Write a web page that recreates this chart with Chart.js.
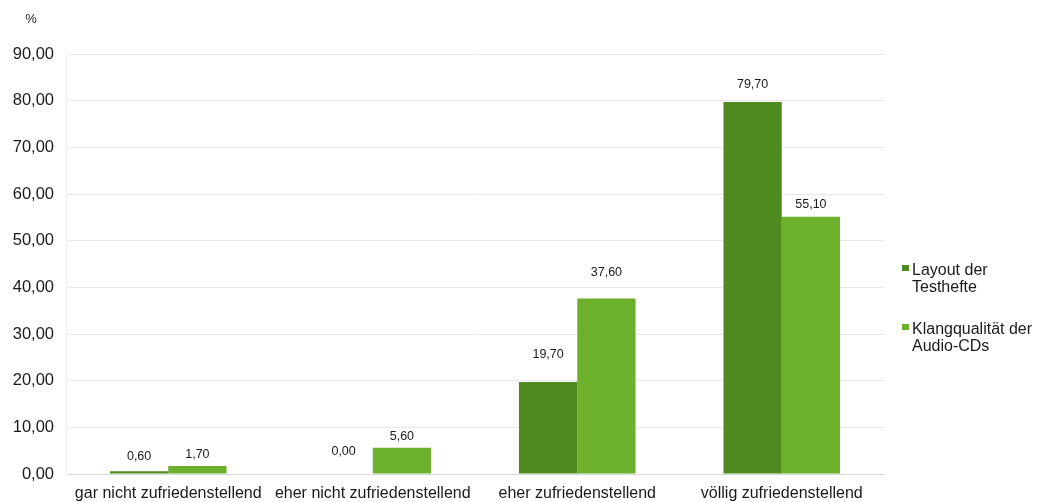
<!DOCTYPE html>
<html>
<head>
<meta charset="utf-8">
<script src="https://cdn.jsdelivr.net/npm/chart.js@4"></script>
<style>
  html, body { margin: 0; padding: 0; background: #fff; }
  #wrap { width: 1040px; height: 502px; position: relative; }
</style>
</head>
<body>
<div id="wrap"><canvas id="myChartBar"></canvas></div>
<script>
// Kategorien und Werte (%)
const kategorien = ['gar nicht zufriedenstellend', 'eher nicht zufriedenstellend', 'eher zufriedenstellend', 'völlig zufriedenstellend'];
const layoutWerte = [0.60, 0.00, 19.70, 79.70];
const klangWerte = [1.70, 5.60, 37.60, 55.10];
const serienNamen = [['Layout der', 'Testhefte'], ['Klangqualität der', 'Audio-CDs']];

const fmt = v => v.toFixed(2).replace('.', ',');
const FONT = '"Liberation Sans", Arial, sans-serif';

// Abstand Wertbeschriftung -> Balkenende, je Reihe/Kategorie
const labelAbstand = [[15, 22, 28, 18], [12, 11, 26, 12]];

// Werte über den Balken
const wertLabels = {
  id: 'wertLabels',
  afterDatasetsDraw(chart) {
    const { ctx } = chart;
    ctx.save();
    ctx.font = '12.5px ' + FONT;
    ctx.fillStyle = '#1a1a1a';
    ctx.textAlign = 'center';
    ctx.textBaseline = 'middle';
    chart.data.datasets.forEach((ds, i) => {
      chart.getDatasetMeta(i).data.forEach((bar, j) => {
        ctx.fillText(fmt(ds.data[j]), bar.x, bar.y - labelAbstand[i][j]);
      });
    });
    ctx.restore();
  }
};

// "%" oben links und Legende rechts
const extras = {
  id: 'extras',
  afterDraw(chart) {
    const { ctx } = chart;
    ctx.save();
    ctx.font = '13px ' + FONT;
    ctx.fillStyle = '#1a1a1a';
    ctx.textBaseline = 'middle';
    ctx.textAlign = 'center';
    ctx.fillText('%', 31, 19);

    ctx.textAlign = 'left';
    ctx.font = '16px ' + FONT;
    const startY = [271, 330];
    chart.data.datasets.forEach((ds, i) => {
      ctx.fillStyle = ds.backgroundColor;
      ctx.fillRect(902, startY[i] - 6, 7, 6);
      ctx.fillStyle = '#1a1a1a';
      serienNamen[i].forEach((zeile, k) => {
        ctx.fillText(zeile, 912, startY[i] + k * 17);
      });
    });
    ctx.restore();
  }
};

const dataBar = {
  labels: kategorien,
  datasets: [{
    label: 'Layout der Testhefte',
    data: layoutWerte,
    backgroundColor: '#4e8a1f',
    borderWidth: 0
  },
  {
    label: 'Klangqualität der Audio-CDs',
    data: klangWerte,
    backgroundColor: '#6cb02b',
    borderWidth: 0
  }]
};

const configBar = {
  type: 'bar',
  data: dataBar,
  options: {
    responsive: false,
    animation: false,
    layout: { padding: { top: 54, right: 156, bottom: 0, left: 0 } },
    datasets: { bar: { categoryPercentage: 0.57, barPercentage: 1.0 } },
    plugins: {
      legend: { display: false },
      tooltip: { enabled: false }
    },
    scales: {
      x: {
        grid: { display: false },
        border: { color: '#d8d8d8' },
        ticks: {
          color: '#1a1a1a',
          autoSkip: false,
          maxRotation: 0,
          minRotation: 0,
          padding: 2,
          font: { family: FONT, size: 16 }
        },
        afterFit(s) { s.height = 28; }
      },
      y: {
        min: 0,
        max: 90,
        ticks: {
          stepSize: 10,
          color: '#1a1a1a',
          padding: 12,
          font: { family: FONT, size: 16.5 },
          callback: v => fmt(v)
        },
        grid: { color: '#e8e8e8', drawTicks: false },
        border: { color: '#eeeeee' },
        afterFit(s) { s.width = 66; }
      }
    }
  },
  plugins: [wertLabels, extras]
};

const canvas = document.getElementById('myChartBar');
canvas.width = 1040;
canvas.height = 502;
// etwas gesperrte Schrift für alle Beschriftungen
canvas.getContext('2d').letterSpacing = '0.5px';
const myChartBar = new Chart(canvas, configBar);
</script>
</body>
</html>
